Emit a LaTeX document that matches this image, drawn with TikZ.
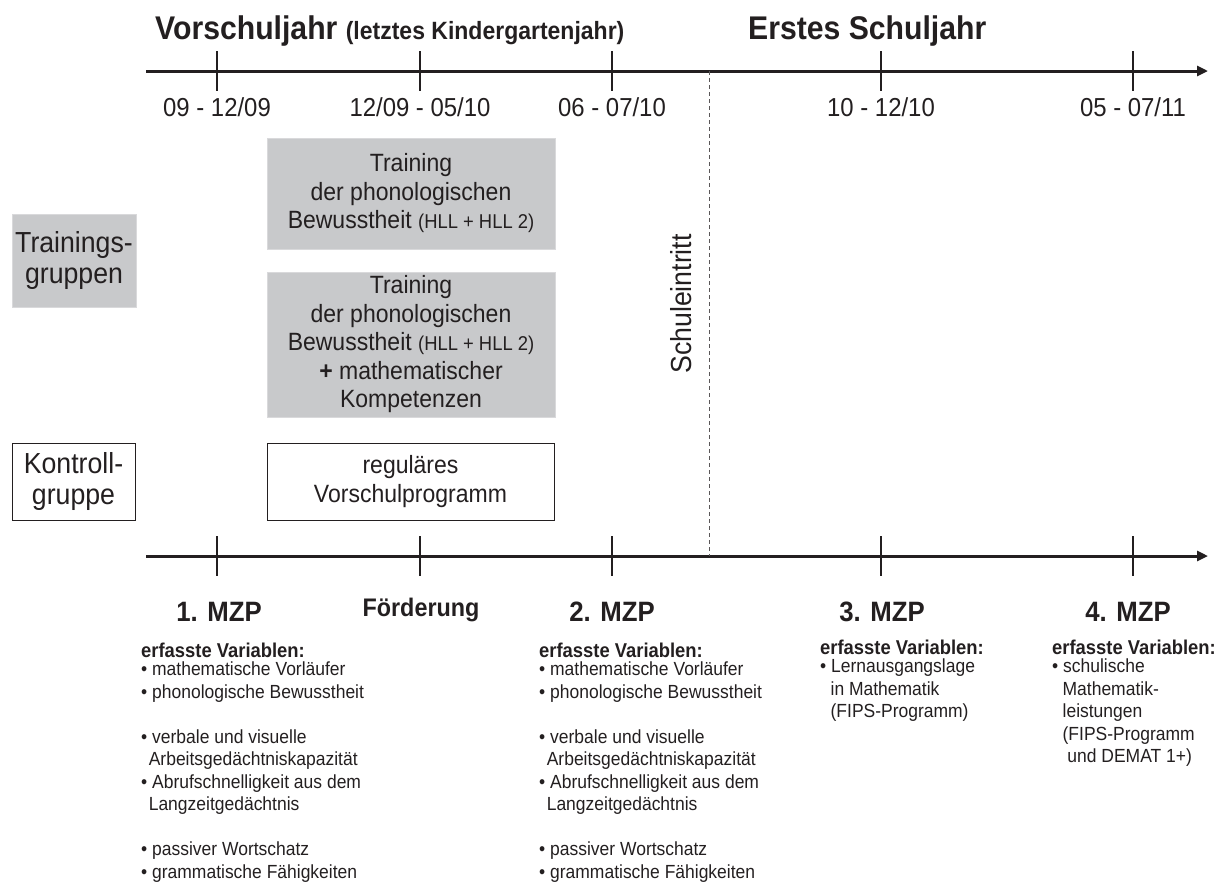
\documentclass[tikz,border=0pt]{standalone}
\usepackage{fontspec}
\setmainfont{Liberation Sans}[FakeStretch=0.92]
\usetikzlibrary{arrows.meta}
\definecolor{txt}{RGB}{35,31,32}
\definecolor{boxgray}{RGB}{200,201,203}
\begin{document}
\begin{tikzpicture}[x=1pt,y=-1pt,
  every node/.style={text=txt},
  axis/.style={draw=txt,line width=3pt,-{Triangle[length=11pt,width=10pt]}},
  tickline/.style={draw=txt,line width=2.5pt},
  datelbl/.style={font=\fontsize{26}{30}\selectfont},
  graybox/.style={fill=boxgray,draw=boxgray!70!white,line width=0.8pt,align=center,inner sep=0pt},
  whitebox/.style={fill=white,draw=txt,line width=1pt,align=center,inner sep=0pt},
  boxtext/.style={font=\fontsize{25}{28.5}\selectfont},
  grouptext/.style={font=\fontsize{29}{31}\selectfont},
  mzp/.style={font=\bfseries\fontsize{28}{32}\selectfont},
  varhead/.style={font=\bfseries\fontsize{20}{22}\selectfont,anchor=west,inner sep=0pt},
  varlist/.style={font=\fontsize{19}{22.5}\selectfont,anchor=north west,inner sep=0pt,align=left},
]
\useasboundingbox (0,0) rectangle (1226,884);

% titles
\node[anchor=base west,inner sep=0pt] (t1) at (155,39) {\bfseries\fontsize{32.8}{36}\selectfont Vorschuljahr \fontsize{25}{28}\selectfont(letztes Kindergartenjahr)};
\node[anchor=base west,inner sep=0pt] (t2) at (748,39) {\bfseries\fontsize{32.8}{36}\selectfont Erstes Schuljahr};

% top axis
\coordinate (ta0) at (146,71);
\coordinate (ta1) at (1208,71);
\draw[axis] (ta0) -- (ta1);
\foreach \n/\x in {a/217,b/420,c/612,d/881,e/1133}{
  \coordinate (tt\n) at (\x,71);
  \draw[tickline] ([yshift=20pt]tt\n) -- ([yshift=-20pt]tt\n);
}
\node[datelbl] (d1) at (217,107.5) {09 - 12/09};
\node[datelbl] (d2) at (420,107.5) {12/09 - 05/10};
\node[datelbl] (d3) at (612,107.5) {06 - 07/10};
\node[datelbl] (d4) at (881,107.5) {10 - 12/10};
\node[datelbl] (d5) at (1133,107.5) {05 - 07/11};

% bottom axis
\coordinate (ba0) at (146,556);
\coordinate (ba1) at (1208,556);
\draw[axis] (ba0) -- (ba1);
\foreach \n/\x in {a/217,b/420,c/612,d/881,e/1133}{
  \coordinate (bt\n) at (\x,556);
  \draw[tickline] ([yshift=20pt]bt\n) -- ([yshift=-20pt]bt\n);
}

% school entry
\coordinate (se0) at (709.5,71);
\coordinate (se1) at (709.5,556);
\draw[draw=txt!75,line width=0.9pt,dash pattern=on 4pt off 3pt] (se0) -- (se1);
\node[rotate=90,font=\fontsize{29}{32}\selectfont] (se) at (681,304) {Schuleintritt};

% group labels
\node[graybox,grouptext,minimum width=124pt,minimum height=93pt] (tg) at (74,260.5) {Trainings-\\gruppen};
\node[whitebox,grouptext,minimum width=123pt,minimum height=77pt] (kg) at (73.5,481.5) {Kontroll-\\gruppe};

% intervention boxes
\node[graybox,boxtext,minimum width=288pt,minimum height=111pt] (b1) at (411,193.5)
  {Training\\der phonologischen\\Bewusstheit {\fontsize{20}{22}\selectfont(HLL + HLL 2)}};
\node[graybox,boxtext,minimum width=288pt,minimum height=145pt] (b2) at (411,344.5)
  {Training\\der phonologischen\\Bewusstheit {\fontsize{20}{22}\selectfont(HLL + HLL 2)}\\{\bfseries+} mathematischer\\Kompetenzen};
\node[whitebox,boxtext,minimum width=287pt,minimum height=77pt] (b3) at (410.5,481.5)
  {reguläres\\Vorschulprogramm};

% measurement points
\node[mzp] (m1) at (219,612) {1. MZP};
\node[font=\bfseries\fontsize{25.4}{28}\selectfont] (fo) at (421,610) {Förderung};
\node[mzp] (m2) at (612,612) {2. MZP};
\node[mzp] (m3) at (882,612) {3. MZP};
\node[mzp] (m4) at (1128,612) {4. MZP};

% variables
\node[varhead] (v1h) at (141,650) {erfasste Variablen:};
\node[varlist] (v1) at (141,662) {• mathematische Vorläufer\\• phonologische Bewusstheit\\[22.5pt]• verbale und visuelle\\\hspace*{0.4em}Arbeitsgedächtniskapazität\\• Abrufschnelligkeit aus dem\\\hspace*{0.4em}Langzeitgedächtnis\\[22.5pt]• passiver Wortschatz\\• grammatische Fähigkeiten};

\node[varhead] (v2h) at (539,650) {erfasste Variablen:};
\node[varlist] (v2) at (539,662) {• mathematische Vorläufer\\• phonologische Bewusstheit\\[22.5pt]• verbale und visuelle\\\hspace*{0.4em}Arbeitsgedächtniskapazität\\• Abrufschnelligkeit aus dem\\\hspace*{0.4em}Langzeitgedächtnis\\[22.5pt]• passiver Wortschatz\\• grammatische Fähigkeiten};

\node[varhead] (v3h) at (820,647) {erfasste Variablen:};
\node[varlist] (v3) at (820,659) {• Lernausgangslage\\\hspace*{0.55em}in Mathematik\\\hspace*{0.55em}(FIPS-Programm)};

\node[varhead] (v4h) at (1052,647) {erfasste Variablen:};
\node[varlist] (v4) at (1052,659) {• schulische\\\hspace*{0.55em}Mathematik-\\\hspace*{0.55em}leistungen\\\hspace*{0.55em}(FIPS-Programm\\\hspace*{0.8em}und DEMAT 1+)};
\end{tikzpicture}
\end{document}
